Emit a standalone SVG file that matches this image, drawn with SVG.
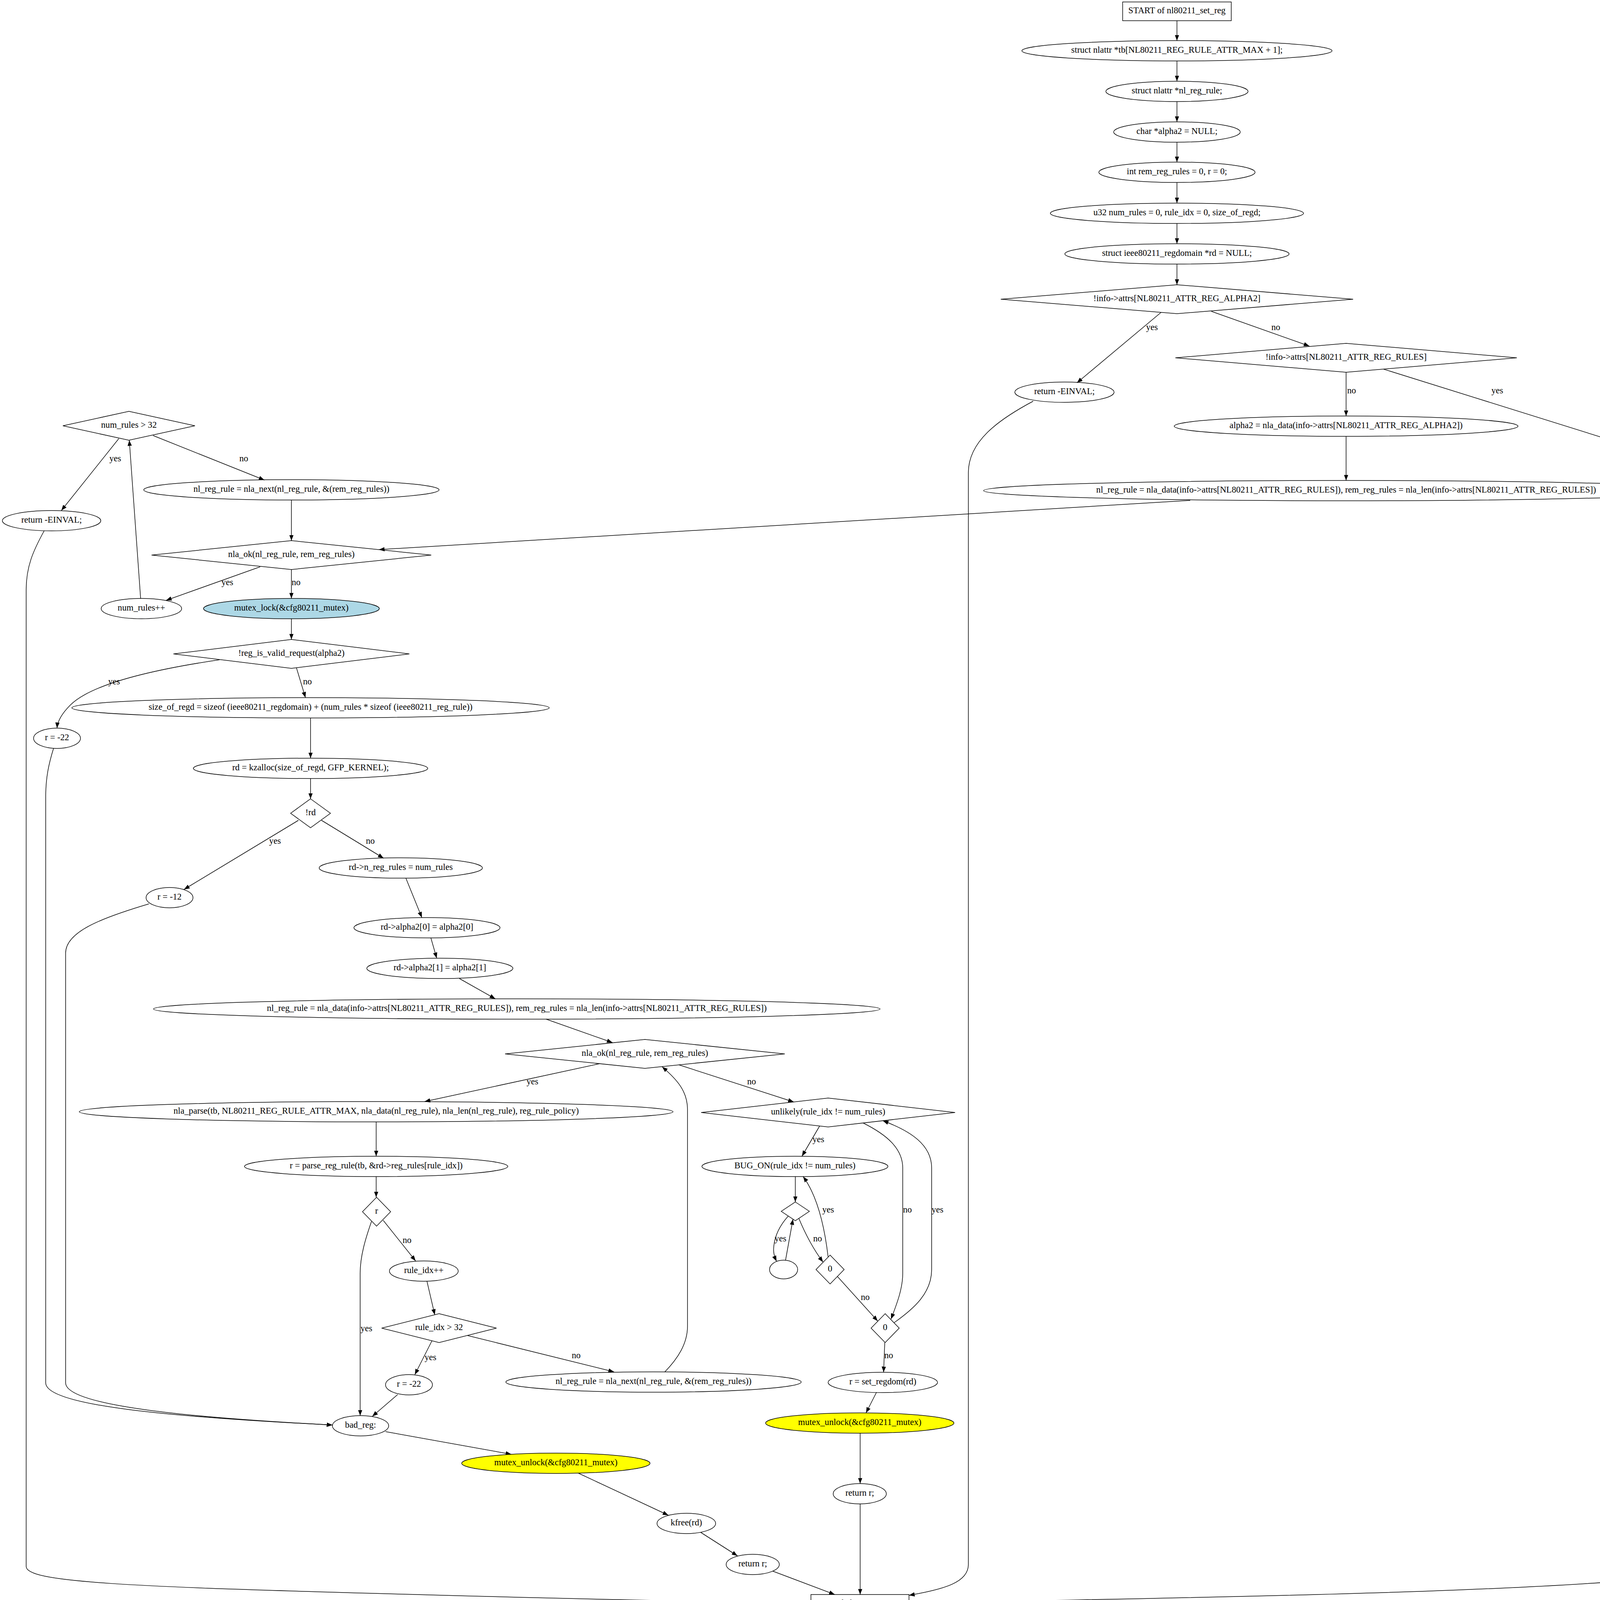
<svg xmlns="http://www.w3.org/2000/svg" width="4423" height="4136" viewBox="0 0 4423 4136">
<style>
.n{fill:none;stroke:#000;stroke-width:1.5}
.lb{fill:#add8e6;stroke:#000;stroke-width:1.5}
.yl{fill:#ffff00;stroke:#000;stroke-width:1.5}
.e{fill:none;stroke:#000;stroke-width:1.5;marker-end:url(#ah)}
text{font-family:"Liberation Serif","Times New Roman",serif;font-size:22.7px;text-anchor:middle;fill:#000}
</style>
<defs>
<marker id="ah" markerUnits="userSpaceOnUse" viewBox="0 0 15 11" markerWidth="15" markerHeight="11" refX="14.5" refY="5.5" orient="auto">
<path d="M0,0 L14.5,5.5 L0,11 z" fill="#000"/>
</marker>
</defs>
<rect x="0" y="0" width="4423" height="4136" fill="#fff"/>

<g id="connectors">
<path class="e" d="M3013,53 L3013,104"/>
<path class="e" d="M3013,156 L3013,208"/>
<path class="e" d="M3013,260 L3013,312"/>
<path class="e" d="M3013,364 L3013,415"/>
<path class="e" d="M3013,467 L3013,520"/>
<path class="e" d="M3013,572 L3013,624"/>
<path class="e" d="M3013,676 L3013,729"/>
<path class="e" d="M2972,800 L2757,980"/>
<text x="2949" y="845">yes</text>
<path class="e" d="M3101,797 L3352,886"/>
<text x="3266" y="845">no</text>
<path class="e" d="M3446,953 L3446,1065"/>
<text x="3460" y="1007">no</text>
<path class="e" d="M3542,945 L4217,1156"/>
<text x="3833" y="1007">yes</text>
<path class="e" d="M3446,1117 L3446,1230"/>
<path class="e" d="M3047,1281 L970,1407"/>
<path class="e" d="M2645,1027 C2555,1075 2479,1130 2479,1210 L2479,4005 C2479,4050 2420,4068 2327,4084"/>
<path class="e" d="M4354,1202 C4392,1225 4412,1255 4412,1300 L4412,4000 C4412,4065 3300,4088 2327,4103"/>

<path class="e" d="M304,1123 L157,1307"/>
<text x="295" y="1181">yes</text>
<path class="e" d="M392,1115 L677,1229"/>
<text x="624" y="1181">no</text>
<path class="e" d="M746,1280 L746,1384"/>
<path class="e" d="M666,1451 L425,1537"/>
<text x="582" y="1498">yes</text>
<path class="e" d="M746,1458 L746,1532"/>
<text x="758" y="1498">no</text>
<path class="e" d="M360,1532 L331,1127"/>
<path class="e" d="M746,1584 L746,1637"/>
<path class="e" d="M562,1689 C420,1710 240,1745 180,1805 C155,1830 147,1850 146,1864"/>
<text x="292" y="1752">yes</text>
<path class="e" d="M759,1710 L782,1786"/>
<text x="787" y="1752">no</text>
<path class="e" d="M113,1359 C85,1410 67,1450 67,1510 L67,4010 C67,4050 300,4062 1100,4083 C1600,4097 1900,4101 2076,4103"/>
<path class="e" d="M795,1838 L795,1941"/>
<path class="e" d="M137,1916 C125,1955 117,1990 117,2040 L117,3540 C117,3600 450,3628 851,3648"/>
<path class="e" d="M795,1993 L795,2045"/>
<path class="e" d="M764,2100 L471,2277"/>
<text x="704" y="2160">yes</text>
<path class="e" d="M823,2100 L982,2197"/>
<text x="948" y="2160">no</text>
<path class="e" d="M381,2314 C260,2350 168,2385 168,2440 L168,3540 C168,3600 500,3630 851,3648"/>
<path class="e" d="M1039,2248 L1080,2349"/>
<path class="e" d="M1103,2401 L1118,2453"/>
<path class="e" d="M1176,2505 L1268,2557"/>
<path class="e" d="M1398,2609 L1568,2669"/>
<path class="e" d="M1535,2723 L1087,2820"/>
<text x="1363" y="2776">yes</text>
<path class="e" d="M1738,2726 L2032,2821"/>
<text x="1924" y="2776">no</text>
<path class="e" d="M963,2872 L963,2960"/>
<path class="e" d="M963,3012 L963,3065"/>
<path class="e" d="M981,3124 L1064,3228"/>
<text x="1042" y="3182">no</text>
<path class="e" d="M951,3127 C936,3170 922,3215 922,3260 L922,3624"/>
<text x="938" y="3408">yes</text>
<path class="e" d="M1093,3280 L1113,3366"/>
<path class="e" d="M1106,3432 L1062,3519"/>
<text x="1102" y="3482">yes</text>
<path class="e" d="M1197,3419 L1572,3512"/>
<text x="1475" y="3477">no</text>
<path class="e" d="M1018,3570 L953,3626"/>
<path class="e" d="M1702,3512 C1735,3478 1760,3440 1760,3395 L1760,2840 C1760,2795 1735,2765 1695,2731"/>
<path class="e" d="M987,3665 L1309,3723"/>
<path class="e" d="M1480,3771 L1711,3879"/>
<path class="e" d="M1794,3923 L1888,3983"/>
<path class="e" d="M1978,4022 L2137,4082"/>

<path class="e" d="M2098,2883 L2053,2960"/>
<text x="2095" y="2924">yes</text>
<path class="e" d="M2210,2875 C2270,2905 2311,2940 2311,2990 L2311,3260 C2311,3300 2295,3340 2281,3377"/>
<text x="2323" y="3104">no</text>
<path class="e" d="M2289,3386 C2340,3350 2385,3310 2385,3250 L2385,2990 C2385,2930 2330,2895 2260,2869"/>
<text x="2400" y="3104">yes</text>
<path class="e" d="M2036,3012 L2036,3077"/>
<path class="e" d="M2018,3113 C2000,3133 1984,3160 1981,3190 C1979,3205 1982,3216 1988,3229"/>
<text x="1998" y="3178">yes</text>
<path class="e" d="M2011,3226 L2030,3121"/>
<path class="e" d="M2045,3119 C2060,3155 2080,3195 2107,3231"/>
<text x="2093" y="3178">no</text>
<path class="e" d="M2120,3218 C2112,3150 2095,3065 2056,3012"/>
<text x="2120" y="3104">yes</text>
<path class="e" d="M2144,3268 L2247,3382"/>
<text x="2215" y="3328">no</text>
<path class="e" d="M2265,3437 L2262,3513"/>
<text x="2275" y="3477">no</text>
<path class="e" d="M2244,3564 L2217,3617"/>
<path class="e" d="M2202,3669 L2202,3798"/>
<path class="e" d="M2202,3850 L2202,4082"/>
</g>

<g id="node_start"><rect class="n" x="2874" y="5" width="278" height="48"/><text x="3013" y="34">START of nl80211_set_reg</text></g>
<g id="node_tb"><ellipse class="n" cx="3013" cy="130" rx="397" ry="26"/><text x="3013" y="135">struct nlattr *tb[NL80211_REG_RULE_ATTR_MAX + 1];</text></g>
<g id="node_nlrr"><ellipse class="n" cx="3013" cy="234" rx="182" ry="26"/><text x="3013" y="239">struct nlattr *nl_reg_rule;</text></g>
<g id="node_alpha2"><ellipse class="n" cx="3013" cy="338" rx="162" ry="26"/><text x="3013" y="343">char *alpha2 = NULL;</text></g>
<g id="node_rem"><ellipse class="n" cx="3013" cy="441" rx="200" ry="26"/><text x="3013" y="446">int rem_reg_rules = 0, r = 0;</text></g>
<g id="node_u32"><ellipse class="n" cx="3013" cy="546" rx="324" ry="26"/><text x="3013" y="551">u32 num_rules = 0, rule_idx = 0, size_of_regd;</text></g>
<g id="node_rd"><ellipse class="n" cx="3013" cy="650" rx="287" ry="26"/><text x="3013" y="655">struct ieee80211_regdomain *rd = NULL;</text></g>
<g id="node_chk_alpha2"><polygon class="n" points="3013,729 3464,766 3013,803 2562,766"/><text x="3013" y="771">!info-&gt;attrs[NL80211_ATTR_REG_ALPHA2]</text></g>
<g id="node_ret_einval1"><ellipse class="n" cx="2725" cy="1004" rx="127" ry="26"/><text x="2725" y="1009">return -EINVAL;</text></g>
<g id="node_chk_rules"><polygon class="n" points="3446,879 3883,916 3446,953 3009,916"/><text x="3446" y="921">!info-&gt;attrs[NL80211_ATTR_REG_RULES]</text></g>
<g id="node_alpha2_set"><ellipse class="n" cx="3446" cy="1091" rx="440" ry="26"/><text x="3446" y="1096">alpha2 = nla_data(info-&gt;attrs[NL80211_ATTR_REG_ALPHA2])</text></g>
<g id="node_ret_einval2"><ellipse class="n" cx="4290" cy="1178" rx="127" ry="26"/><text x="4290" y="1183">return -EINVAL;</text></g>
<g id="node_nla_data1"><ellipse class="n" cx="3446" cy="1256" rx="928" ry="26"/><text x="3446" y="1261">nl_reg_rule = nla_data(info-&gt;attrs[NL80211_ATTR_REG_RULES]), rem_reg_rules = nla_len(info-&gt;attrs[NL80211_ATTR_REG_RULES])</text></g>

<g id="node_num32"><polygon class="n" points="330,1053 499,1090 330,1127 161,1090"/><text x="330" y="1095">num_rules &gt; 32</text></g>
<g id="node_ret_einval3"><ellipse class="n" cx="132" cy="1333" rx="126" ry="26"/><text x="132" y="1338">return -EINVAL;</text></g>
<g id="node_next1"><ellipse class="n" cx="746" cy="1254" rx="378" ry="26"/><text x="746" y="1259">nl_reg_rule = nla_next(nl_reg_rule, &amp;(rem_reg_rules))</text></g>
<g id="node_nlaok1"><polygon class="n" points="746,1384 1104,1421 746,1458 388,1421"/><text x="746" y="1426">nla_ok(nl_reg_rule, rem_reg_rules)</text></g>
<g id="node_numpp"><ellipse class="n" cx="362" cy="1558" rx="103" ry="26"/><text x="362" y="1563">num_rules++</text></g>
<g id="node_lock"><ellipse class="lb" cx="746" cy="1558" rx="225" ry="26"/><text x="746" y="1563">mutex_lock(&amp;cfg80211_mutex)</text></g>
<g id="node_valid"><polygon class="n" points="746,1637 1048,1674 746,1711 444,1674"/><text x="746" y="1679">!reg_is_valid_request(alpha2)</text></g>
<g id="node_size"><ellipse class="n" cx="795" cy="1812" rx="611" ry="26"/><text x="795" y="1817">size_of_regd = sizeof (ieee80211_regdomain) + (num_rules * sizeof (ieee80211_reg_rule))</text></g>
<g id="node_r22a"><ellipse class="n" cx="146" cy="1890" rx="60" ry="26"/><text x="146" y="1895">r = -22</text></g>
<g id="node_kzalloc"><ellipse class="n" cx="795" cy="1967" rx="300" ry="26"/><text x="795" y="1972">rd = kzalloc(size_of_regd, GFP_KERNEL);</text></g>
<g id="node_notrd"><polygon class="n" points="795,2045 846,2082 795,2119 744,2082"/><text x="795" y="2087">!rd</text></g>
<g id="node_r12"><ellipse class="n" cx="434" cy="2298" rx="60" ry="26"/><text x="434" y="2303">r = -12</text></g>
<g id="node_nrr"><ellipse class="n" cx="1026" cy="2222" rx="209" ry="26"/><text x="1026" y="2227">rd-&gt;n_reg_rules = num_rules</text></g>
<g id="node_a0"><ellipse class="n" cx="1093" cy="2375" rx="187" ry="26"/><text x="1093" y="2380">rd-&gt;alpha2[0] = alpha2[0]</text></g>
<g id="node_a1"><ellipse class="n" cx="1126" cy="2479" rx="187" ry="26"/><text x="1126" y="2484">rd-&gt;alpha2[1] = alpha2[1]</text></g>
<g id="node_nla_data2"><ellipse class="n" cx="1323" cy="2583" rx="930" ry="26"/><text x="1323" y="2588">nl_reg_rule = nla_data(info-&gt;attrs[NL80211_ATTR_REG_RULES]), rem_reg_rules = nla_len(info-&gt;attrs[NL80211_ATTR_REG_RULES])</text></g>
<g id="node_nlaok2"><polygon class="n" points="1651,2661 2009,2698 1651,2735 1293,2698"/><text x="1651" y="2703">nla_ok(nl_reg_rule, rem_reg_rules)</text></g>
<g id="node_parse"><ellipse class="n" cx="963" cy="2846" rx="760" ry="26"/><text x="963" y="2851">nla_parse(tb, NL80211_REG_RULE_ATTR_MAX, nla_data(nl_reg_rule), nla_len(nl_reg_rule), reg_rule_policy)</text></g>
<g id="node_unlikely"><polygon class="n" points="2120,2811 2445,2848 2120,2885 1795,2848"/><text x="2120" y="2853">unlikely(rule_idx != num_rules)</text></g>
<g id="node_prr"><ellipse class="n" cx="963" cy="2986" rx="337" ry="26"/><text x="963" y="2991">r = parse_reg_rule(tb, &amp;rd-&gt;reg_rules[rule_idx])</text></g>
<g id="node_bugon"><ellipse class="n" cx="2035" cy="2986" rx="238" ry="26"/><text x="2035" y="2991">BUG_ON(rule_idx != num_rules)</text></g>
<g id="node_r"><polygon class="n" points="964,3065 1000,3102 964,3139 928,3102"/><text x="964" y="3107">r</text></g>
<g id="node_empty_diamond"><polygon class="n" points="2036,3077 2072,3101 2036,3125 2000,3101"/></g>
<g id="node_empty_ellipse"><ellipse class="n" cx="2006" cy="3250" rx="36" ry="24"/></g>
<g id="node_zero1"><polygon class="n" points="2125,3213 2161,3250 2125,3287 2089,3250"/><text x="2125" y="3255">0</text></g>
<g id="node_ridxpp"><ellipse class="n" cx="1085" cy="3254" rx="88" ry="26"/><text x="1085" y="3259">rule_idx++</text></g>
<g id="node_ridx32"><polygon class="n" points="1124,3363 1271,3400 1124,3437 977,3400"/><text x="1124" y="3405">rule_idx &gt; 32</text></g>
<g id="node_zero2"><polygon class="n" points="2266,3363 2302,3400 2266,3437 2230,3400"/><text x="2266" y="3405">0</text></g>
<g id="node_r22b"><ellipse class="n" cx="1047" cy="3545" rx="60" ry="26"/><text x="1047" y="3550">r = -22</text></g>
<g id="node_next2"><ellipse class="n" cx="1673" cy="3538" rx="378" ry="26"/><text x="1673" y="3543">nl_reg_rule = nla_next(nl_reg_rule, &amp;(rem_reg_rules))</text></g>
<g id="node_setregdom"><ellipse class="n" cx="2260" cy="3539" rx="140" ry="26"/><text x="2260" y="3544">r = set_regdom(rd)</text></g>
<g id="node_badreg"><ellipse class="n" cx="923" cy="3650" rx="72" ry="26"/><text x="923" y="3655">bad_reg:</text></g>
<g id="node_unlock1"><ellipse class="yl" cx="1423" cy="3746" rx="241" ry="26"/><text x="1423" y="3751">mutex_unlock(&amp;cfg80211_mutex)</text></g>
<g id="node_unlock2"><ellipse class="yl" cx="2201" cy="3643" rx="241" ry="26"/><text x="2201" y="3648">mutex_unlock(&amp;cfg80211_mutex)</text></g>
<g id="node_return_r2"><ellipse class="n" cx="2201" cy="3824" rx="68" ry="26"/><text x="2201" y="3829">return r;</text></g>
<g id="node_kfree"><ellipse class="n" cx="1757" cy="3900" rx="75" ry="26"/><text x="1757" y="3905">kfree(rd)</text></g>
<g id="node_return_r1"><ellipse class="n" cx="1927" cy="4005" rx="68" ry="26"/><text x="1927" y="4010">return r;</text></g>
<g id="node_end"><rect class="n" x="2076" y="4082" width="251" height="48"/><text x="2201" y="4111">END of nl80211_set_reg</text></g>
</svg>
